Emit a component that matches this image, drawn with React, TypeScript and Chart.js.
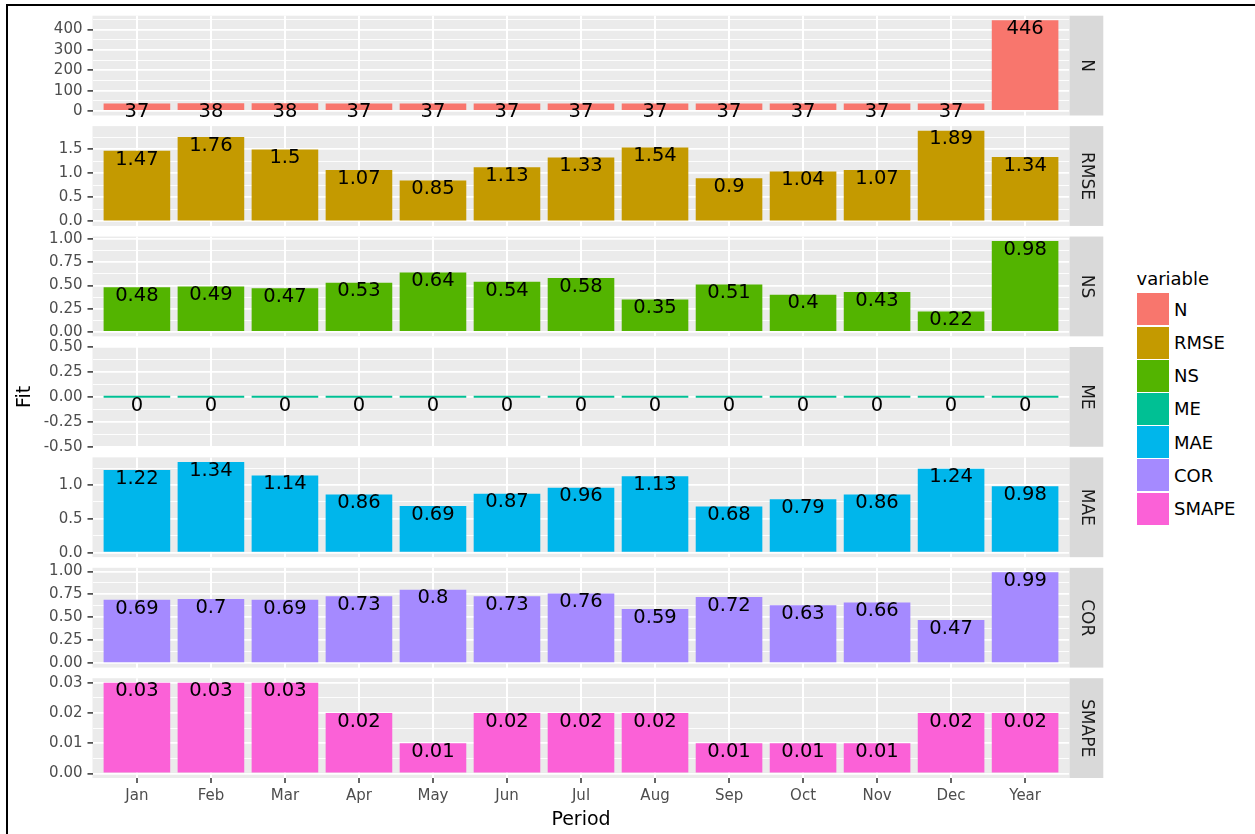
import React, { useEffect, useRef } from 'react';
import { Chart, registerables } from 'chart.js';

Chart.register(...registerables);

// ---------------- data ----------------
const CATEGORIES = ['Jan', 'Feb', 'Mar', 'Apr', 'May', 'Jun', 'Jul', 'Aug', 'Sep', 'Oct', 'Nov', 'Dec', 'Year'];
const VARIABLES = ['N', 'RMSE', 'NS', 'ME', 'MAE', 'COR', 'SMAPE'];

const N_VALUES = [37, 38, 38, 37, 37, 37, 37, 37, 37, 37, 37, 37, 446];
const RMSE_VALUES = [1.47, 1.76, 1.5, 1.07, 0.85, 1.13, 1.33, 1.54, 0.9, 1.04, 1.07, 1.89, 1.34];
const NS_VALUES = [0.48, 0.49, 0.47, 0.53, 0.64, 0.54, 0.58, 0.35, 0.51, 0.4, 0.43, 0.22, 0.98];
const ME_VALUES = [0, 0, 0, 0, 0, 0, 0, 0, 0, 0, 0, 0, 0];
const MAE_VALUES = [1.22, 1.34, 1.14, 0.86, 0.69, 0.87, 0.96, 1.13, 0.68, 0.79, 0.86, 1.24, 0.98];
const COR_VALUES = [0.69, 0.7, 0.69, 0.73, 0.8, 0.73, 0.76, 0.59, 0.72, 0.63, 0.66, 0.47, 0.99];
const SMAPE_VALUES = [0.03, 0.03, 0.03, 0.02, 0.01, 0.02, 0.02, 0.02, 0.01, 0.01, 0.01, 0.02, 0.02];

const N_TICKS = [0, 100, 200, 300, 400];
const N_TICK_LABELS = ['0', '100', '200', '300', '400'];
const N_MINOR = [50, 150, 250, 350, 450];

const RMSE_TICKS = [0, 0.5, 1, 1.5];
const RMSE_TICK_LABELS = ['0.0', '0.5', '1.0', '1.5'];
const RMSE_MINOR = [0.25, 0.75, 1.25, 1.75];

const NS_TICKS = [0, 0.25, 0.5, 0.75, 1];
const NS_TICK_LABELS = ['0.00', '0.25', '0.50', '0.75', '1.00'];
const NS_MINOR = [0.125, 0.375, 0.625, 0.875];

const ME_TICKS = [-0.5, -0.25, 0, 0.25, 0.5];
const ME_TICK_LABELS = ['-0.50', '-0.25', '0.00', '0.25', '0.50'];
const ME_MINOR = [-0.375, -0.125, 0.125, 0.375];

const MAE_TICKS = [0, 0.5, 1];
const MAE_TICK_LABELS = ['0.0', '0.5', '1.0'];
const MAE_MINOR = [0.25, 0.75, 1.25];

const COR_TICKS = [0, 0.25, 0.5, 0.75, 1];
const COR_TICK_LABELS = ['0.00', '0.25', '0.50', '0.75', '1.00'];
const COR_MINOR = [0.125, 0.375, 0.625, 0.875];

const SMAPE_TICKS = [0, 0.01, 0.02, 0.03];
const SMAPE_TICK_LABELS = ['0.00', '0.01', '0.02', '0.03'];
const SMAPE_MINOR = [0.005, 0.015, 0.025];

const COLORS = ['#F8766D', '#C49A00', '#53B400', '#00C094', '#00B6EB', '#A58AFF', '#FB61D7'];

const X_TITLE = 'Period';
const Y_TITLE = 'Fit';
const LEGEND_TITLE = 'variable';

// ---------------- layout / style ----------------
const PAGE_W = 1255;
const PAGE_H = 834;
const PANEL_LEFT = 92.5;
const PANEL_RIGHT = 1069.5;
const STRIP_W = 33.8;
const CANVAS_W = 1104;
const PANEL_TOP0 = 15.7;
const PANEL_PITCH = 110.42;
const PANEL_H = 99.8;
const MARGIN = 17;
const FONT = '"DejaVu Sans"';

const PANELS = [
  { values: N_VALUES, ticks: N_TICKS, labels: N_TICK_LABELS, minor: N_MINOR },
  { values: RMSE_VALUES, ticks: RMSE_TICKS, labels: RMSE_TICK_LABELS, minor: RMSE_MINOR },
  { values: NS_VALUES, ticks: NS_TICKS, labels: NS_TICK_LABELS, minor: NS_MINOR },
  { values: ME_VALUES, ticks: ME_TICKS, labels: ME_TICK_LABELS, minor: ME_MINOR },
  { values: MAE_VALUES, ticks: MAE_TICKS, labels: MAE_TICK_LABELS, minor: MAE_MINOR },
  { values: COR_VALUES, ticks: COR_TICKS, labels: COR_TICK_LABELS, minor: COR_MINOR },
  { values: SMAPE_VALUES, ticks: SMAPE_TICKS, labels: SMAPE_TICK_LABELS, minor: SMAPE_MINOR },
];

function limitsFor(values: number[]): [number, number] {
  const lo = Math.min(0, ...values);
  const hi = Math.max(0, ...values);
  if (hi - lo === 0) return [lo - 0.5, hi + 0.5];
  const pad = (hi - lo) * 0.05;
  return [lo - pad, hi + pad];
}

function geometry(i: number) {
  const top = PANEL_TOP0 + i * PANEL_PITCH;
  const isLast = i === PANELS.length - 1;
  const canvasTop = Math.floor(top) - MARGIN;
  const padTop = top - canvasTop;
  const canvasH = isLast ? PAGE_H - canvasTop : Math.ceil(padTop + PANEL_H + MARGIN);
  const padBottom = isLast ? 0 : canvasH - padTop - PANEL_H;
  const xAxisH = isLast ? PAGE_H - (top + PANEL_H) : 0;
  return { top, isLast, canvasTop, padTop, canvasH, padBottom, xAxisH };
}

function makePlugin(i: number) {
  const name = VARIABLES[i];
  const values = PANELS[i].values;
  return {
    id: 'facetDeco' + i,
    beforeDraw(chart: any) {
      const { ctx, chartArea: a } = chart;
      ctx.save();
      ctx.fillStyle = '#EBEBEB';
      ctx.fillRect(a.left, a.top, a.right - a.left, a.bottom - a.top);
      ctx.restore();
    },
    afterDatasetsDraw(chart: any) {
      const { ctx } = chart;
      const meta = chart.getDatasetMeta(0);
      const ys = chart.scales.y;
      ctx.save();
      ctx.font = `19.5px ${FONT}`;
      ctx.fillStyle = '#000000';
      ctx.textAlign = 'center';
      ctx.textBaseline = 'alphabetic';
      meta.data.forEach((el: any, k: number) => {
        const v = values[k];
        ctx.fillText(String(v), el.x, ys.getPixelForValue(v) + 13.7);
      });
      ctx.restore();
    },
    afterDraw(chart: any) {
      const { ctx, chartArea: a } = chart;
      ctx.save();
      ctx.fillStyle = '#D9D9D9';
      ctx.fillRect(a.right, a.top, STRIP_W, a.bottom - a.top);
      ctx.translate(a.right + STRIP_W / 2, (a.top + a.bottom) / 2);
      ctx.rotate(Math.PI / 2);
      ctx.font = `17px ${FONT}`;
      ctx.fillStyle = '#1A1A1A';
      ctx.textAlign = 'center';
      ctx.textBaseline = 'middle';
      ctx.fillText(name, 0, 0);
      ctx.restore();
    },
  };
}

function makeConfig(i: number): any {
  const p = PANELS[i];
  const g = geometry(i);
  const [yMin, yMax] = limitsFor(p.values);
  const nMajor = p.ticks.length;
  const isME = VARIABLES[i] === 'ME';
  return {
    type: 'bar',
    data: {
      datasets: [
        {
          label: VARIABLES[i],
          data: p.values.map((v, k) => ({ x: k, y: v })),
          backgroundColor: COLORS[i],
          borderWidth: 0,
          barPercentage: 0.9,
          categoryPercentage: 1,
          minBarLength: isME ? 2 : 0,
        },
      ],
    },
    options: {
      responsive: false,
      animation: false,
      events: [],
      layout: {
        padding: { left: 0, right: CANVAS_W - PANEL_RIGHT, top: g.padTop, bottom: g.padBottom },
      },
      plugins: { legend: { display: false }, tooltip: { enabled: false } },
      scales: {
        x: {
          type: 'linear',
          min: -0.6,
          max: CATEGORIES.length - 1 + 0.6,
          offset: false,
          afterBuildTicks: (s: any) => {
            s.ticks = CATEGORIES.map((_, k) => ({ value: k }));
          },
          afterFit: (s: any) => {
            s.height = g.xAxisH;
          },
          ticks: {
            display: g.isLast,
            autoSkip: false,
            maxRotation: 0,
            padding: 4,
            color: '#4D4D4D',
            font: { family: FONT, size: 15 },
            callback: (v: any) => CATEGORIES[Math.round(Number(v))],
          },
          grid: {
            offset: false,
            color: '#FFFFFF',
            lineWidth: 2,
            drawTicks: g.isLast,
            tickLength: 5,
            tickColor: '#333333',
            tickWidth: 1.5,
          },
          border: { display: false },
          title: {
            display: g.isLast,
            text: X_TITLE,
            color: '#000000',
            font: { family: FONT, size: 19 },
            padding: { top: 0, bottom: 2.6 },
          },
        },
        y: {
          type: 'linear',
          min: yMin,
          max: yMax,
          afterBuildTicks: (s: any) => {
            s.ticks = [...p.ticks.map((v) => ({ value: v })), ...p.minor.map((v) => ({ value: v }))];
          },
          afterFit: (s: any) => {
            s.width = PANEL_LEFT;
          },
          ticks: {
            autoSkip: false,
            padding: 5,
            color: '#4D4D4D',
            font: { family: FONT, size: 15 },
            callback: (_v: any, idx: number) => (idx < nMajor ? p.labels[idx] : ''),
          },
          grid: {
            color: '#FFFFFF',
            lineWidth: (c: any) => (c.index < nMajor ? 1.8 : 0.9),
            drawTicks: true,
            tickLength: 5,
            tickColor: (c: any) => (c.index < nMajor ? '#333333' : 'rgba(0,0,0,0)'),
            tickWidth: 1.5,
          },
          border: { display: false },
          title: {
            display: isME,
            text: Y_TITLE,
            color: '#000000',
            font: { family: FONT, size: 19 },
            padding: { top: 14, bottom: 0 },
          },
        },
      },
    },
    plugins: [makePlugin(i)],
  };
}

function Panel({ index }: { index: number }) {
  const ref = useRef<HTMLCanvasElement | null>(null);
  const g = geometry(index);
  useEffect(() => {
    if (!ref.current) return;
    const chart = new Chart(ref.current, makeConfig(index));
    return () => chart.destroy();
  }, [index]);
  return (
    <canvas
      ref={ref}
      width={CANVAS_W}
      height={g.canvasH}
      style={{ position: 'absolute', left: 0, top: g.canvasTop, width: CANVAS_W, height: g.canvasH }}
    />
  );
}

function Legend() {
  const keyTop0 = 293.3;
  const pitch = 33.2;
  return (
    <>
      <div
        style={{
          position: 'absolute',
          left: 1136.5,
          top: 269.8,
          font: `18px ${FONT}`,
          lineHeight: '18px',
          color: '#000',
          whiteSpace: 'nowrap',
        }}
      >
        {LEGEND_TITLE}
      </div>
      {VARIABLES.map((v, i) => (
        <React.Fragment key={v}>
          <div
            style={{
              position: 'absolute',
              left: 1136.5,
              top: keyTop0 + i * pitch,
              width: 32.5,
              height: pitch - 1,
              background: COLORS[i],
            }}
          />
          <div
            style={{
              position: 'absolute',
              left: 1174,
              top: keyTop0 + i * pitch,
              height: pitch - 1,
              display: 'flex',
              alignItems: 'center',
              font: `18px ${FONT}`,
              color: '#000',
              whiteSpace: 'nowrap',
            }}
          >
            {v}
          </div>
        </React.Fragment>
      ))}
    </>
  );
}

export default function App() {
  return (
    <div
      style={{
        position: 'fixed',
        left: 0,
        top: 0,
        width: PAGE_W,
        height: PAGE_H,
        background: '#FFFFFF',
        overflow: 'hidden',
      }}
    >
      {PANELS.map((_, i) => (
        <Panel key={i} index={i} />
      ))}
      <Legend />
      <div
        style={{
          position: 'absolute',
          left: 6,
          top: 4,
          width: PAGE_W,
          height: PAGE_H,
          borderLeft: '2px solid #000',
          borderTop: '2px solid #000',
          pointerEvents: 'none',
        }}
      />
    </div>
  );
}
